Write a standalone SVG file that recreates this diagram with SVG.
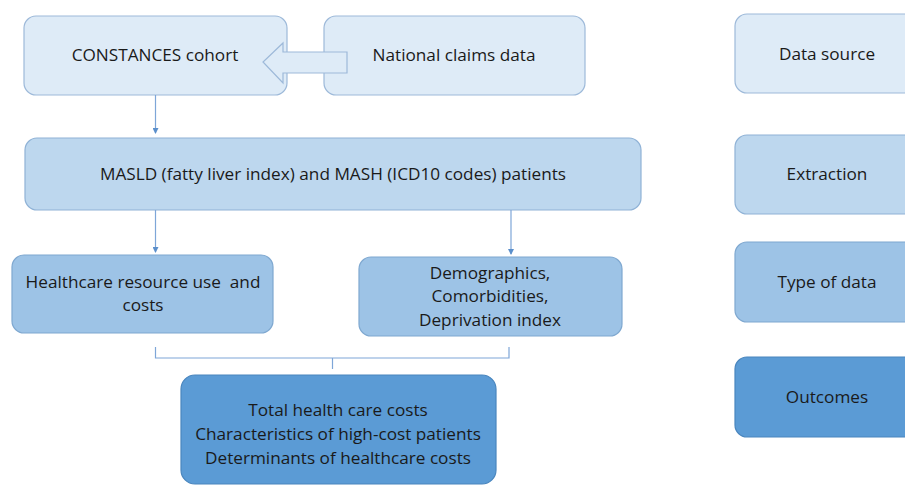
<svg xmlns="http://www.w3.org/2000/svg" width="905" height="486" viewBox="0 0 905 486">
<defs>
<style>
.t{font-family:"Open Sans","Liberation Sans",sans-serif;font-size:17.2px;fill:#1a1a1a;text-anchor:middle}
.c1{fill:#DEEBF7;stroke:#9DB9D9;stroke-width:1.2}
.c2{fill:#BDD7EE;stroke:#8FB2D6;stroke-width:1.2}
.c3{fill:#9DC3E6;stroke:#7FA8D0;stroke-width:1.2}
.c4{fill:#5B9BD5;stroke:#4A86BE;stroke-width:1.2}
.ln{fill:none;stroke:#7EA6D8;stroke-width:1.2}
</style>
<marker id="ah" markerWidth="6" markerHeight="6" refX="5" refY="3" orient="auto" markerUnits="userSpaceOnUse">
<path d="M0,0 L6,3 L0,6 z" fill="#5B8FCB"/>
</marker>
</defs>
<rect width="905" height="486" fill="#ffffff"/>
<g id="constances"><rect class="c1" x="24" y="16" width="263" height="79" rx="12"/><text class="t" x="155" y="61">CONSTANCES cohort</text></g>
<g id="national"><rect class="c1" x="324" y="16" width="261" height="79" rx="12"/><text class="t" x="454" y="61">National claims data</text></g>
<g id="masld"><rect class="c2" x="25" y="138" width="616" height="72" rx="12"/><text class="t" x="333" y="180">MASLD (fatty liver index) and MASH (ICD10 codes) patients</text></g>
<g id="hru"><rect class="c3" x="12" y="255" width="261" height="78" rx="12"/><text class="t" x="143" y="288" style="white-space:pre">Healthcare resource use  and</text><text class="t" x="143" y="311">costs</text></g>
<g id="demo"><rect class="c3" x="359" y="257" width="263" height="79" rx="12"/><text class="t" x="490" y="279">Demographics,</text><text class="t" x="490" y="302">Comorbidities,</text><text class="t" x="490" y="326">Deprivation index</text></g>
<g id="outcomes"><rect class="c4" x="181" y="375" width="315" height="109" rx="14"/><text class="t" x="338" y="416">Total health care costs</text><text class="t" x="338" y="440">Characteristics of high-cost patients</text><text class="t" x="338" y="464">Determinants of healthcare costs</text></g>
<g id="leg-datasource"><rect class="c1" x="735" y="14" width="190" height="79" rx="12"/><text class="t" x="827" y="60">Data source</text></g>
<g id="leg-extraction"><rect class="c2" x="735" y="135" width="190" height="79" rx="12"/><text class="t" x="827" y="180">Extraction</text></g>
<g id="leg-type"><rect class="c3" x="735" y="242" width="190" height="80" rx="12"/><text class="t" x="827" y="288">Type of data</text></g>
<g id="leg-outcomes"><rect class="c4" x="735" y="357" width="190" height="80" rx="12"/><text class="t" x="827" y="403">Outcomes</text></g>
<g id="connectors">
<path d="M347,52 L283,52 L283,43 L263,62 L283,83 L283,73 L347,73 Z" fill="#DEEBF7" stroke="#9DB9D9" stroke-width="1.2"/>
<line class="ln" x1="155.5" y1="95" x2="155.5" y2="133" marker-end="url(#ah)"/>
<line class="ln" x1="155.5" y1="210" x2="155.5" y2="252" marker-end="url(#ah)"/>
<line class="ln" x1="511" y1="210" x2="511" y2="254" marker-end="url(#ah)"/>
<path class="ln" d="M155.5,347 V358 H509 V347 M332.5,358 V369"/>
</g>
</svg>
